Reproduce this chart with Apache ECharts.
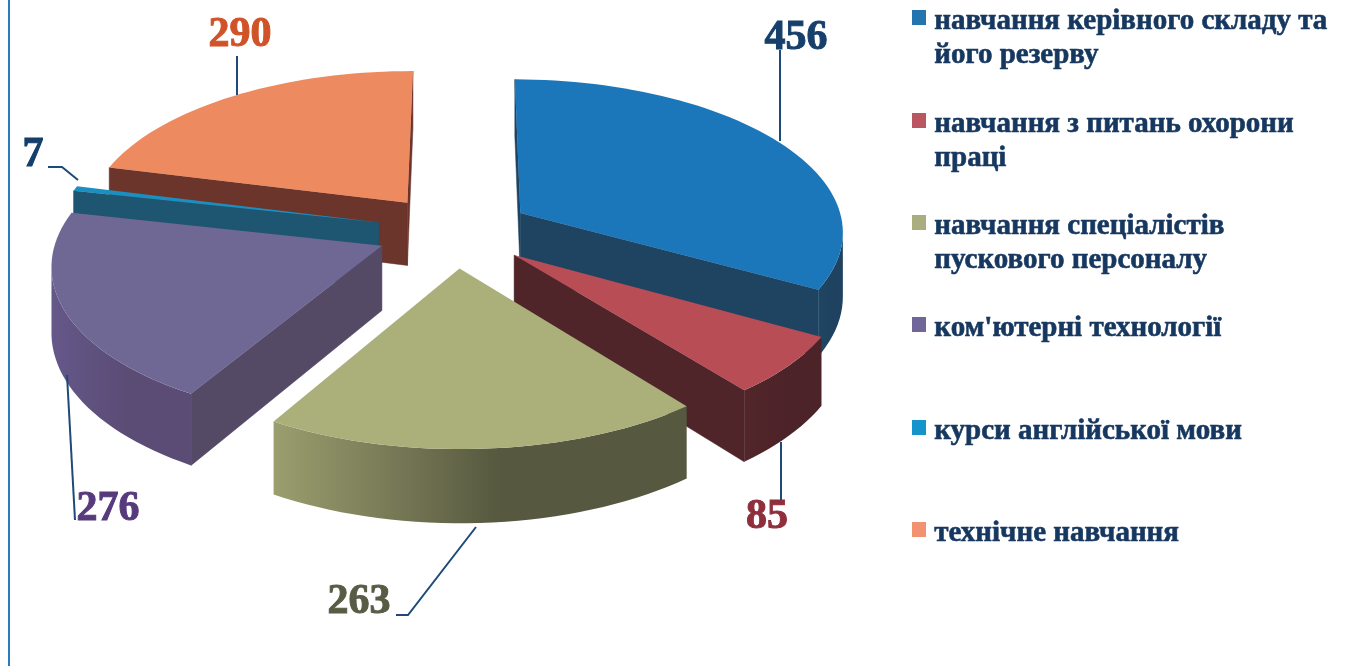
<!DOCTYPE html>
<html lang="uk">
<head>
<meta charset="UTF-8">
<title>Навчання персоналу</title>
<style>
  html, body { margin: 0; padding: 0; background: #fff; }
  #main { width: 1348px; height: 666px; }
</style>
</head>
<body>
<div id="main"></div>
<script src="https://cdn.jsdelivr.net/npm/echarts@6/dist/echarts.min.js"></script>
<script>
// data
var categories = [
  'навчання керівного складу та\nйого резерву',
  'навчання з питань охорони\nпраці',
  'навчання спеціалістів\nпускового персоналу',
  "ком'ютерні технології",
  'курси англійської мови',
  'технічне навчання'
];
var values = [456, 85, 263, 276, 7, 290];

// colours per slice
var topColors = ['#1c76ba', '#b84d56', '#abaf7a', '#6f6894', '#1a8fc0', '#ee8a60'];
var sideColors = [
  ['#1f4663', '#1e4260'], ['#52262b', '#4c2328'], ['#9b9e6e', '#56583f'],
  ['#65588a', '#5a4c74'], ['#1e5a76', '#1e5570'], ['#6e372d', '#6a352b']
];
var innerColors = ['#1f4462', '#4f2529', '#56583f', '#554a66', '#1e5570', '#6b352c'];
var markerColors = ['#2474b0', '#b95660', '#a9ad80', '#70669a', '#1594cc', '#f29270'];
var labelColors = ['#173f6b', '#8f2f3c', '#585c44', '#563a7c', '#143f6b', '#cf5228'];

// painting order, back to front
var paintOrder = [5, 0, 4, 3, 1, 2];

// value label centres and their leader lines
var labelSpots = [[796, 38], [767, 517], [359, 602], [108, 509], [33, 155], [240, 35]];
var leaders = [
  [[780, 50], [780, 141]],
  [[781, 505], [781, 442]],
  [[396, 615], [408, 615], [476, 527]],
  [[75, 520], [67, 375]],
  [[48, 167], [62, 167], [78, 180]],
  [[237, 56], [237, 95]]
];

// legend rows
var legendTops = [10, 113, 215, 317, 420, 522];

// pie projection
var cx = 454, cy = 231, rx = 324, ry = 152;
var persp = 0.11, depth = 64, explode = 0.24, startDeg = 0.2;

var total = values.reduce(function (a, b) { return a + b; }, 0);

function project(u, v, h) {
  var s = 1 / (1 + persp * v);
  return [cx + rx * u * s, cy - ry * v * s + h * s];
}

function area(pts) {
  var sum = 0;
  for (var i = 0; i < pts.length; i++) {
    var a = pts[i], b = pts[(i + 1) % pts.length];
    sum += a[0] * b[1] - b[0] * a[1];
  }
  return sum / 2;
}

function renderSlice(params, api) {
  var idx = params.dataIndex;
  var before = 0;
  for (var k = 0; k < idx; k++) before += values[k];
  var a0 = (startDeg + before / total * 360) * Math.PI / 180;
  var a1 = (startDeg + (before + api.value(0)) / total * 360) * Math.PI / 180;
  var mid = (a0 + a1) / 2;
  var ou = explode * Math.sin(mid), ov = explode * Math.cos(mid);
  var steps = Math.max(3, Math.ceil((a1 - a0) / (Math.PI / 90)));

  var arc = [], arcLow = [];
  for (var i = 0; i <= steps; i++) {
    var t = a0 + (a1 - a0) * i / steps;
    arc.push(project(ou + Math.sin(t), ov + Math.cos(t), 0));
    arcLow.push(project(ou + Math.sin(t), ov + Math.cos(t), depth));
  }
  var apex = project(ou, ov, 0), apexLow = project(ou, ov, depth);
  var base = paintOrder.indexOf(idx) * 10;
  var children = [];

  function wall(p, q, pLow, qLow) {
    var pts = [p, q, qLow, pLow];
    if (area(pts) < 0) {
      children.push({
        type: 'polygon', z2: base + 1, shape: { points: pts },
        style: { fill: innerColors[idx], stroke: innerColors[idx], lineWidth: 0.5 }
      });
    }
  }
  wall(apex, arc[0], apexLow, arcLow[0]);
  wall(arc[steps], apex, arcLow[steps], apexLow);

  // outer wall: join the segments that face the viewer
  var run = [];
  function flush() {
    if (run.length > 1) {
      var pts = run.map(function (n) { return arc[n]; })
        .concat(run.slice().reverse().map(function (n) { return arcLow[n]; }));
      children.push({
        type: 'polygon', z2: base + 2, shape: { points: pts },
        style: {
          fill: {
            type: 'linear', x: 1, y: 0, x2: 0, y2: 0,
            colorStops: [
              { offset: 0, color: sideColors[idx][1] },
              { offset: 0.45, color: sideColors[idx][1] },
              { offset: 1, color: sideColors[idx][0] }
            ]
          }
        }
      });
    }
    run = [];
  }
  for (var j = 0; j < steps; j++) {
    if (area([arc[j], arc[j + 1], arcLow[j + 1], arcLow[j]]) < 0) {
      if (!run.length) run.push(j);
      run.push(j + 1);
    } else {
      flush();
    }
  }
  flush();

  children.push({
    type: 'polygon', z2: base + 3, shape: { points: [apex].concat(arc) },
    style: { fill: topColors[idx] }
  });
  children.push({
    type: 'polyline', z2: 100, shape: { points: leaders[idx] },
    style: { fill: null, stroke: '#1d4a78', lineWidth: 2 }
  });
  children.push({
    type: 'text', z2: 101,
    style: {
      text: String(api.value(0)), x: labelSpots[idx][0], y: labelSpots[idx][1],
      font: 'bold 42px "Liberation Serif"', fill: labelColors[idx],
      stroke: labelColors[idx], lineWidth: 1,
      textAlign: 'center', textVerticalAlign: 'middle'
    }
  });
  return { type: 'group', children: children };
}

// legend and the left page rule
var extras = [{
  type: 'rect', left: 8, top: 0, z: 1,
  shape: { width: 2, height: 666 }, style: { fill: '#2a7cbb' }
}];
categories.forEach(function (name, i) {
  extras.push({
    type: 'rect', left: 912, top: legendTops[i],
    shape: { width: 14, height: 15 }, style: { fill: markerColors[i] }
  });
  extras.push({
    type: 'text', left: 934, top: legendTops[i] - 5,
    style: {
      text: name, fill: '#16375f', lineHeight: 34,
      stroke: '#16375f', lineWidth: 0.6,
      font: 'bold 29px "Liberation Serif"'
    }
  });
});

var chart = echarts.init(document.getElementById('main'), null, { renderer: 'canvas' });
chart.setOption({
  animation: false,
  backgroundColor: '#ffffff',
  graphic: { elements: extras },
  series: [{
    type: 'custom',
    coordinateSystem: 'none',
    renderItem: renderSlice,
    data: values.map(function (v) { return [v]; })
  }]
});
</script>
</body>
</html>
